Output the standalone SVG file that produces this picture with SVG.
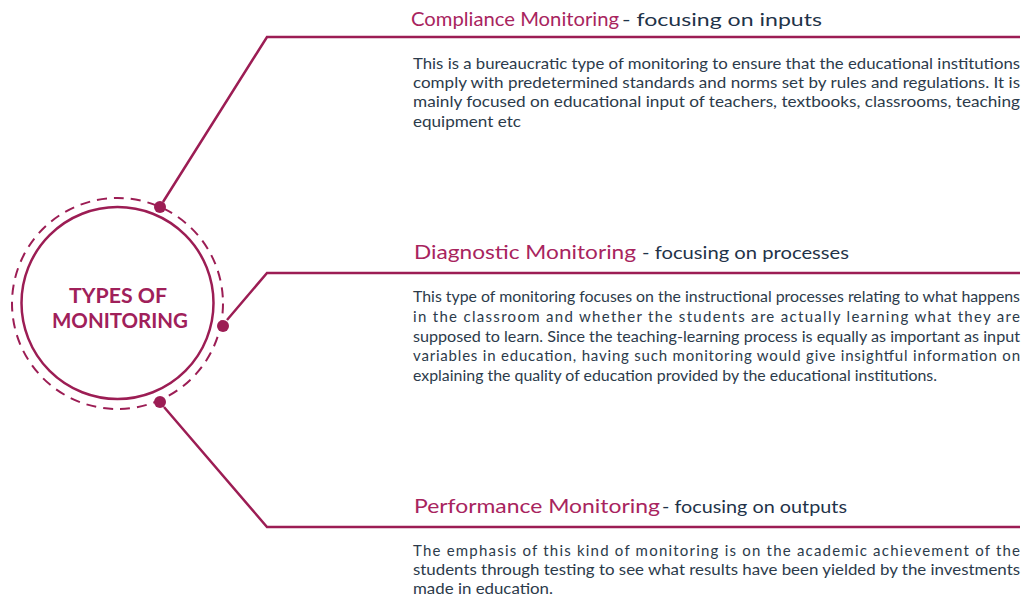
<svg xmlns="http://www.w3.org/2000/svg" width="1022" height="597" viewBox="0 0 1022 597">
<style>
.ln{fill:none;stroke:#9c1d54;stroke-width:2.5}
.dot{fill:#9c1d54}
.h{font-family:Lato,"Open Sans","Liberation Sans",sans-serif;font-size:20px;fill:#a8245e}
.s{font-family:Lato,"Open Sans","Liberation Sans",sans-serif;font-size:17.5px;fill:#1f3349}
.b{font-family:Lato,"Open Sans","Liberation Sans",sans-serif;font-size:15px;fill:#2c3b4b}
.c{font-family:Lato,"Open Sans","Liberation Sans",sans-serif;font-size:20px;font-weight:bold;fill:#a0205a;text-anchor:middle}
</style>
<rect width="1022" height="597" fill="#ffffff"/>
<g id="connectors">
<polyline class="ln" points="163,202 267,37 1020,37"/>
<polyline class="ln" points="227,320 267,273 1020,273"/>
<polyline class="ln" points="164,407 267,527 1020,527"/>
</g>
<g id="center">
<circle cx="117.5" cy="303.5" r="105.5" fill="none" stroke="#9c1d54" stroke-width="2" stroke-dasharray="10 7"/>
<circle cx="117.5" cy="303" r="96" fill="#ffffff" stroke="#9c1d54" stroke-width="2.5"/>
<circle class="dot" cx="160" cy="207" r="6"/>
<circle class="dot" cx="223" cy="326" r="6"/>
<circle class="dot" cx="160" cy="402" r="6"/>
<text class="c" x="118" y="303" textLength="98" lengthAdjust="spacingAndGlyphs">TYPES OF</text>
<text class="c" x="120" y="328" textLength="136" lengthAdjust="spacingAndGlyphs">MONITORING</text>
</g>
<g id="compliance">
<text class="h" x="411" y="26" textLength="208" lengthAdjust="spacingAndGlyphs">Compliance Monitoring</text>
<text class="s" x="622" y="26" textLength="200" lengthAdjust="spacingAndGlyphs">- focusing on inputs</text>
<text class="b" x="413" y="69" textLength="607" lengthAdjust="spacingAndGlyphs">This is a bureaucratic type of monitoring to ensure that the educational institutions</text>
<text class="b" x="413" y="88" textLength="607" lengthAdjust="spacingAndGlyphs">comply with predetermined standards and norms set by rules and regulations. It is</text>
<text class="b" x="413" y="107" textLength="607" lengthAdjust="spacingAndGlyphs">mainly focused on educational input of  teachers, textbooks, classrooms, teaching</text>
<text class="b" x="413" y="127" textLength="108" lengthAdjust="spacingAndGlyphs">equipment etc</text>
</g>
<g id="diagnostic">
<text class="h" x="414" y="259" textLength="222" lengthAdjust="spacingAndGlyphs">Diagnostic Monitoring</text>
<text class="s" x="642" y="259" textLength="207" lengthAdjust="spacingAndGlyphs">- focusing on processes</text>
<text class="b" x="413" y="302" textLength="607" lengthAdjust="spacingAndGlyphs">This type of monitoring focuses on the instructional processes relating to what happens</text>
<text class="b" x="413" y="322" textLength="607" lengthAdjust="spacing">in the classroom and whether the students are actually learning what they are</text>
<text class="b" x="413" y="342" textLength="607" lengthAdjust="spacingAndGlyphs">supposed to learn. Since the teaching-learning process is equally as important as input</text>
<text class="b" x="413" y="361" textLength="607" lengthAdjust="spacing">variables in education, having such monitoring would give insightful information on</text>
<text class="b" x="413" y="381" textLength="524" lengthAdjust="spacingAndGlyphs">explaining the quality of education provided by the educational institutions.</text>
</g>
<g id="performance">
<text class="h" x="414" y="513" textLength="246" lengthAdjust="spacingAndGlyphs">Performance Monitoring</text>
<text class="s" x="662" y="513" textLength="185" lengthAdjust="spacingAndGlyphs">- focusing on outputs</text>
<text class="b" x="413" y="556" textLength="607" lengthAdjust="spacing">The emphasis of this kind of monitoring is on the academic achievement of the</text>
<text class="b" x="413" y="575" textLength="607" lengthAdjust="spacingAndGlyphs">students through testing to see what results have been yielded by the investments</text>
<text class="b" x="413" y="594" textLength="140" lengthAdjust="spacingAndGlyphs">made in education.</text>
</g>
</svg>
